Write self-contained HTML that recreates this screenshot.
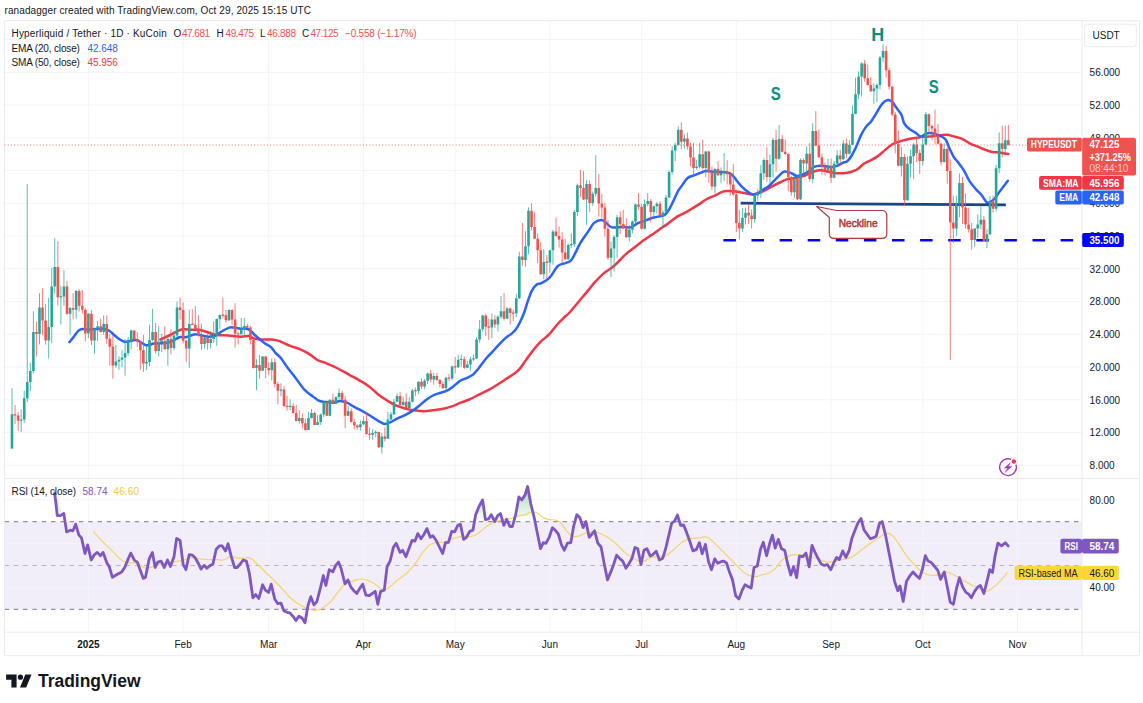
<!DOCTYPE html><html><head><meta charset="utf-8"><title>HYPEUSDT chart</title><style>html,body{margin:0;padding:0;background:#fff;width:1143px;height:703px;overflow:hidden;font-family:"Liberation Sans",sans-serif}</style></head><body><svg width="1143" height="703" viewBox="0 0 1143 703" style="position:absolute;left:0;top:0"><rect width="1143" height="703" fill="#fff"/><rect x="4.5" y="521.7" width="1077.5" height="87.6" fill="#7e57c2" fill-opacity="0.1"/><path d="M4.5 465.3H1082.0M4.5 432.5H1082.0M4.5 399.8H1082.0M4.5 367.0H1082.0M4.5 334.3H1082.0M4.5 301.5H1082.0M4.5 268.8H1082.0M4.5 236.0H1082.0M4.5 203.3H1082.0M4.5 170.5H1082.0M4.5 137.8H1082.0M4.5 105.0H1082.0M4.5 72.3H1082.0M4.5 39.5H1082.0M4.5 499.8H1082.0M4.5 543.6H1082.0M4.5 587.4H1082.0M88.4 20.7V632.2M183.1 20.7V632.2M268.7 20.7V632.2M363.5 20.7V632.2M455.2 20.7V632.2M549.9 20.7V632.2M641.6 20.7V632.2M736.3 20.7V632.2M831.1 20.7V632.2M922.8 20.7V632.2M1017.5 20.7V632.2" stroke="#f2f4f6" stroke-width="1" fill="none"/><path d="M4.5 521.7H1082.0M4.5 609.3H1082.0" stroke="#787b86" stroke-width="1" stroke-dasharray="4.5 4.8" fill="none"/><path d="M4.5 565.5H1082.0" stroke="#787b86" stroke-opacity="0.5" stroke-width="1" stroke-dasharray="4.5 4.8" fill="none"/><path d="M4.5 20.7H1139.5V655.7H4.5Z M1082.0 20.7V655.7 M4.5 478.5H1139.5 M4.5 632.2H1139.5" stroke="#e9ebef" stroke-width="1" fill="none"/><path d="M4.5 145.0H1082.0" stroke="#ef5350" stroke-width="0.9" stroke-opacity="0.85" stroke-dasharray="1.1 2.1" fill="none"/><path d="M160.4 339.5C162.0 338.8 167.0 336.5 170.1 335.0C173.2 333.5 176.9 331.3 179.2 330.4C181.5 329.4 181.4 329.4 183.7 329.3C186.0 329.2 190.2 329.7 192.9 329.8C195.6 329.9 197.0 329.3 199.7 329.8C202.3 330.3 206.0 331.8 208.8 332.7C211.7 333.6 213.6 334.5 216.8 335.0C220.0 335.5 224.1 335.2 228.1 335.5C232.1 335.8 237.2 336.6 240.7 336.7C244.2 336.8 246.9 335.8 249.1 336.1C251.3 336.4 251.8 337.8 253.7 338.4C255.6 339.0 257.5 339.3 260.5 339.5C263.5 339.7 268.7 339.2 271.9 339.5C275.1 339.8 276.8 340.1 279.8 341.2C282.8 342.2 286.5 344.4 290.1 345.8C293.7 347.2 298.1 348.3 301.5 349.8C304.9 351.3 308.0 353.2 310.6 354.9C313.2 356.6 314.8 358.6 317.4 360.0C320.0 361.4 323.1 362.0 326.5 363.4C329.9 364.8 334.1 366.6 337.9 368.5C341.7 370.4 345.5 372.7 349.3 374.8C353.1 376.9 357.4 379.2 360.7 381.1C364.0 383.0 366.2 384.2 369.1 386.4C372.0 388.6 375.2 392.0 378.2 394.4C381.2 396.8 384.3 398.7 387.3 400.6C390.3 402.5 393.4 404.4 396.4 405.7C399.4 407.0 402.5 407.8 405.5 408.6C408.5 409.4 411.6 409.9 414.6 410.3C417.6 410.7 420.6 411.2 423.7 411.2C426.8 411.2 429.8 410.7 432.9 410.3C435.9 409.9 439.0 409.5 442.0 408.9C445.0 408.3 448.1 407.6 451.1 406.6C454.1 405.6 457.2 404.1 460.2 402.9C463.2 401.7 466.3 400.8 469.3 399.5C472.3 398.2 474.9 396.6 478.4 394.9C481.8 393.2 485.6 391.7 490.0 389.2C494.4 386.7 501.1 382.1 504.9 379.7C508.7 377.3 510.4 376.4 512.9 374.6C515.4 372.8 517.4 371.5 519.7 368.9C522.0 366.3 524.2 362.3 526.5 359.2C528.8 356.1 531.0 353.0 533.3 350.1C535.6 347.2 537.5 344.8 540.2 342.1C542.9 339.4 546.5 337.0 549.3 334.1C552.1 331.2 554.6 327.4 557.2 324.5C559.9 321.6 563.1 318.6 565.2 316.5C567.3 314.4 566.2 316.3 570.0 312.0C573.8 307.7 583.8 295.5 587.9 290.6C592.0 285.7 592.0 285.3 594.7 282.4C597.4 279.4 601.1 275.6 604.3 272.9C607.5 270.2 610.5 269.0 613.9 266.0C617.3 263.0 621.4 258.2 624.8 255.1C628.2 252.0 631.1 250.1 634.3 247.6C637.5 245.1 641.1 242.1 643.9 240.1C646.7 238.1 648.5 237.0 651.0 235.3C653.5 233.6 656.1 231.7 659.0 229.7C661.9 227.7 665.1 225.6 668.1 223.4C671.1 221.2 674.4 218.4 677.2 216.6C680.1 214.8 683.1 213.7 685.2 212.6C687.3 211.5 687.5 211.3 690.0 209.8C692.5 208.3 697.2 205.4 700.0 203.6C702.8 201.8 704.3 200.3 706.8 199.0C709.3 197.7 712.1 196.8 714.8 195.6C717.5 194.4 720.5 192.3 722.8 191.6C725.1 190.8 726.2 191.1 728.5 191.1C730.8 191.1 733.6 191.2 736.4 191.6C739.2 192.0 742.8 192.8 745.5 193.3C748.2 193.8 750.1 194.6 752.4 194.5C754.7 194.4 756.9 193.6 759.2 192.8C761.5 192.0 763.7 191.1 766.0 189.9C768.3 188.8 770.6 187.1 772.9 185.9C775.2 184.7 777.4 183.6 779.7 182.5C782.0 181.4 784.1 180.2 786.8 179.4C789.5 178.6 792.9 178.3 795.9 177.7C798.9 177.0 802.0 176.5 805.0 175.5C808.0 174.5 811.4 172.4 814.1 171.5C816.8 170.6 818.3 170.2 821.0 170.3C823.7 170.4 827.5 171.5 830.1 172.0C832.8 172.5 834.6 173.0 836.9 173.2C839.2 173.4 841.4 173.4 843.7 173.2C846.0 173.0 848.3 172.7 850.6 172.0C852.9 171.3 855.1 170.6 857.4 169.2C859.7 167.8 861.9 165.0 864.2 163.5C866.5 162.0 868.8 161.3 871.1 160.1C873.4 158.9 875.6 157.7 877.9 156.1C880.2 154.5 882.4 152.3 884.7 150.4C887.0 148.5 889.3 146.1 891.6 144.7C893.9 143.3 896.0 142.7 898.4 141.9C900.8 141.1 903.1 140.4 905.9 139.8C908.7 139.2 912.0 138.6 915.0 138.1C918.0 137.6 921.1 137.0 924.1 136.7C927.1 136.4 930.6 136.4 933.3 136.2C936.0 136.0 937.8 135.6 940.1 135.3C942.4 135.1 944.6 134.5 946.9 134.7C949.2 134.9 951.2 135.7 953.7 136.4C956.2 137.1 959.0 137.5 961.7 138.7C964.4 139.8 967.2 142.1 969.7 143.3C972.2 144.5 974.0 145.1 976.5 146.1C979.0 147.1 981.9 148.5 984.5 149.5C987.1 150.5 989.9 151.6 992.4 152.1C994.9 152.6 996.6 152.1 999.3 152.4C1002.0 152.7 1006.9 153.8 1008.4 154.1" stroke="#f23645" stroke-width="2.5" fill="none" stroke-linejoin="round" stroke-linecap="round"/><path d="M69.4 342.1C70.2 341.2 72.5 338.3 74.0 336.4C75.5 334.5 77.2 331.9 78.5 330.7C79.8 329.5 80.7 329.2 82.0 329.0C83.3 328.8 85.0 329.3 86.5 329.4C88.0 329.5 89.2 329.5 91.1 329.4C93.0 329.3 95.6 329.1 97.9 329.0C100.2 328.9 102.8 328.7 104.7 329.0C106.6 329.3 107.8 329.8 109.3 330.7C110.8 331.6 112.1 333.3 113.8 334.7C115.5 336.1 117.7 338.1 119.5 339.3C121.3 340.5 122.6 341.6 124.6 341.8C126.6 342.0 129.3 341.0 131.4 340.7C133.5 340.4 134.6 339.4 137.1 340.1C139.6 340.9 143.4 344.6 146.2 345.2C149.0 345.8 150.9 343.9 154.1 343.5C157.3 343.1 162.4 343.3 165.5 342.9C168.6 342.5 170.1 342.1 172.4 341.2C174.7 340.2 176.9 337.9 179.2 337.2C181.5 336.5 183.5 337.7 186.0 337.2C188.5 336.7 191.7 334.8 194.0 334.4C196.3 334.0 197.2 334.6 199.7 335.0C202.2 335.4 206.2 336.6 208.8 336.7C211.5 336.8 213.3 336.4 215.6 335.5C217.9 334.6 220.1 332.3 222.4 331.0C224.7 329.7 227.4 328.2 229.3 327.6C231.2 327.0 231.9 327.4 233.8 327.6C235.7 327.8 238.5 328.5 240.7 328.7C242.9 328.9 245.0 328.2 246.8 328.7C248.6 329.2 250.1 330.4 251.4 331.5C252.7 332.6 253.5 333.8 254.8 335.0C256.1 336.2 257.7 337.6 259.4 339.0C261.1 340.4 263.1 342.2 265.0 343.5C266.9 344.8 269.0 345.4 270.7 346.9C272.4 348.4 273.6 350.7 275.3 352.6C277.0 354.5 278.9 355.7 281.0 358.3C283.1 360.9 285.3 364.7 287.8 368.0C290.3 371.3 293.0 374.5 295.8 378.2C298.6 381.9 302.0 387.2 304.9 390.2C307.8 393.2 310.4 394.6 312.9 396.4C315.4 398.2 317.4 400.1 319.7 401.0C322.0 401.9 324.2 401.8 326.5 402.1C328.8 402.4 331.0 402.9 333.3 402.7C335.6 402.5 337.9 401.0 340.2 401.0C342.5 401.0 344.7 401.8 347.0 402.7C349.3 403.6 351.5 405.5 353.8 406.7C356.1 407.9 358.5 408.9 360.7 410.1C362.9 411.3 364.4 412.2 366.8 413.7C369.2 415.1 372.5 417.4 374.8 418.8C377.1 420.2 378.8 421.4 380.5 422.2C382.2 423.0 383.3 423.9 385.0 423.9C386.7 423.9 388.6 423.1 390.7 422.2C392.8 421.3 395.1 419.5 397.6 418.3C400.1 417.1 403.0 416.0 405.5 414.8C408.0 413.6 410.1 412.4 412.4 410.9C414.7 409.4 416.9 407.5 419.2 405.7C421.5 403.9 423.7 401.7 426.0 400.0C428.3 398.3 430.6 396.7 432.9 395.5C435.2 394.3 437.4 393.8 439.7 393.0C442.0 392.2 444.2 392.0 446.5 390.9C448.8 389.8 451.0 388.1 453.3 386.4C455.6 384.7 457.9 382.1 460.2 380.7C462.5 379.3 464.9 378.8 467.0 377.8C469.1 376.8 471.1 376.2 473.0 374.6C474.9 373.0 476.6 370.9 478.7 368.3C480.8 365.7 483.2 361.9 485.5 359.2C487.8 356.4 490.1 354.3 492.4 351.8C494.7 349.3 496.9 346.8 499.2 344.4C501.5 342.0 503.9 339.4 506.0 337.6C508.1 335.8 510.1 334.9 511.7 333.6C513.3 332.3 514.4 331.4 515.7 329.6C517.0 327.8 518.3 325.7 519.7 322.8C521.1 319.9 522.8 316.3 524.2 312.5C525.6 308.7 526.9 303.6 528.2 300.0C529.5 296.4 530.5 293.2 531.9 290.6C533.3 288.0 535.1 285.8 536.7 284.5C538.3 283.2 539.2 284.2 541.4 283.1C543.5 282.0 546.9 280.6 549.6 277.7C552.3 274.8 555.3 268.4 557.8 266.0C560.3 263.6 562.5 264.2 564.7 263.3C566.9 262.4 569.0 262.4 570.8 260.6C572.6 258.8 574.0 255.4 575.6 252.4C577.2 249.4 578.4 246.2 580.4 242.8C582.4 239.4 585.6 235.2 587.9 231.9C590.2 228.6 591.9 224.9 594.1 222.9C596.3 220.9 599.1 220.1 601.0 220.0C602.9 219.9 604.0 221.2 605.5 222.3C607.0 223.4 608.6 225.6 610.1 226.5C611.6 227.4 612.3 227.5 614.6 227.6C616.9 227.7 621.0 226.8 623.7 226.8C626.4 226.8 628.3 228.0 630.6 227.4C632.9 226.8 635.1 224.5 637.4 223.4C639.7 222.3 641.9 221.9 644.2 221.1C646.5 220.2 648.8 219.1 651.1 218.3C653.4 217.6 655.6 217.2 657.9 216.6C660.2 216.0 662.8 216.1 664.7 214.9C666.6 213.7 667.8 211.7 669.3 209.2C670.8 206.7 672.3 203.2 673.8 200.1C675.3 197.0 677.1 192.7 678.4 190.4C679.7 188.1 680.1 188.1 681.6 186.1C683.1 184.1 685.2 180.0 687.3 178.2C689.4 176.4 692.0 176.2 694.1 175.3C696.2 174.5 697.9 173.8 699.8 173.1C701.7 172.4 703.4 171.2 705.5 171.0C707.6 170.8 709.9 171.5 712.4 171.7C714.9 171.8 717.8 171.8 720.3 171.9C722.8 172.0 725.3 172.1 727.2 172.5C729.1 172.9 730.4 173.3 731.9 174.6C733.4 175.9 734.9 178.3 736.4 180.2C737.9 182.1 739.5 184.3 741.0 185.9C742.5 187.5 744.0 188.7 745.5 189.9C747.0 191.1 748.8 192.5 750.1 193.3C751.4 194.1 752.2 194.5 753.5 194.5C754.8 194.5 756.5 194.1 758.0 193.3C759.5 192.5 760.9 191.0 762.6 189.9C764.3 188.8 766.4 188.0 768.3 186.5C770.2 185.0 772.1 182.7 774.0 180.8C775.9 178.9 777.9 176.7 779.7 175.1C781.5 173.5 782.7 171.8 784.6 171.5C786.5 171.2 789.3 172.4 791.4 173.2C793.5 173.9 795.2 175.8 797.1 176.0C799.0 176.2 800.9 175.1 802.8 174.3C804.7 173.6 806.6 172.7 808.5 171.5C810.4 170.3 812.2 167.8 814.1 166.9C816.0 166.0 817.9 165.9 819.8 165.8C821.7 165.7 823.6 166.1 825.5 166.3C827.4 166.5 829.3 167.0 831.2 166.9C833.1 166.8 835.0 166.5 836.9 165.8C838.8 165.1 840.9 163.7 842.6 162.9C844.3 162.1 845.7 162.4 847.2 161.2C848.7 160.0 850.2 158.0 851.7 155.5C853.2 153.0 854.8 149.7 856.3 146.4C857.8 143.1 859.3 138.7 860.8 135.6C862.3 132.5 863.7 130.0 865.4 127.6C867.1 125.2 869.4 123.6 871.1 121.4C872.8 119.2 874.0 117.2 875.5 114.7C877.0 112.2 878.6 108.9 880.1 106.7C881.6 104.5 883.2 102.7 884.6 101.6C886.0 100.5 887.3 99.8 888.6 99.9C889.9 100.0 891.4 101.1 892.6 102.2C893.8 103.3 894.2 104.7 895.7 106.8C897.2 108.9 900.0 112.0 901.4 114.8C902.8 117.5 902.9 120.9 904.2 123.3C905.5 125.7 907.6 127.5 909.4 129.0C911.2 130.5 913.1 131.2 915.0 132.4C916.9 133.6 919.0 136.1 920.7 136.4C922.4 136.7 923.8 134.7 925.3 134.1C926.8 133.5 928.1 133.0 929.8 133.0C931.5 133.0 933.6 133.5 935.5 134.1C937.4 134.7 939.5 135.4 941.2 136.4C942.9 137.4 944.5 137.9 945.8 139.8C947.1 141.7 947.9 145.0 949.2 147.8C950.5 150.7 952.2 154.4 953.7 156.9C955.2 159.4 956.6 160.3 958.3 162.6C960.0 164.9 962.1 167.5 964.0 170.6C965.9 173.7 967.6 178.2 969.7 181.4C971.8 184.6 974.6 187.7 976.5 189.9C978.4 192.1 979.4 192.4 981.1 194.5C982.8 196.6 985.3 201.2 986.8 202.4C988.3 203.6 988.9 202.6 990.2 201.9C991.5 201.2 993.0 200.4 994.7 198.5C996.4 196.6 998.2 193.4 1000.4 190.5C1002.6 187.6 1006.6 182.4 1007.8 180.8" stroke="#2962ff" stroke-width="2.5" fill="none" stroke-linejoin="round" stroke-linecap="round"/><path d="M740.6 203.2L1005.8 204.8" stroke="#1c4587" stroke-width="2.8" fill="none"/><path d="M723.4 240.2H1081" stroke="#0000ff" stroke-width="2.6" stroke-dasharray="12.5 15.6" fill="none"/><path d="M816.7 206.5L836.5 210.5H881.8Q886.8 210.5 886.8 215.5V233.4Q886.8 238.4 881.8 238.4H834.3Q829.3 238.4 829.3 233.4V217.5Z" fill="#fff" stroke="#b2383e" stroke-width="1.2" stroke-linejoin="round"/><text x="838.7" y="227.2" font-family="Liberation Sans, sans-serif" font-size="10.5" fill="#b2383e" stroke="#b2383e" stroke-width="0.5" textLength="39" lengthAdjust="spacingAndGlyphs">Neckline</text><path d="M11.99 388.2V448.5M21.16 409.3V432.0M24.22 391.0V423.0M27.27 184.2V402.0M30.33 363.0V391.0M33.39 311.4V373.4M39.50 293.2V344.4M48.67 297.7V358.6M51.72 267.9V343.3M54.78 238.2V293.7M60.89 285.8V324.5M63.95 270.2V305.7M70.06 307.0V334.7M76.17 290.0V318.8M88.40 313.0V338.1M94.51 327.3V353.5M97.57 321.0V341.0M103.68 315.4V334.7M115.91 345.0V367.7M118.96 356.3V369.7M122.02 350.1V367.2M125.08 339.3V375.7M128.13 337.0V355.8M131.19 329.6V349.2M146.47 345.8V370.0M149.53 324.7V366.3M152.58 308.8V341.2M158.69 325.9V356.6M161.75 333.8V352.0M167.86 336.1V365.7M173.98 331.0V349.8M177.03 301.4V337.8M189.26 309.4V368.0M204.54 336.5V348.6M210.65 331.0V348.6M213.71 321.3V342.9M216.76 318.5V345.8M219.82 314.5V328.7M228.99 309.3V321.0M241.22 317.9V334.5M244.27 317.9V336.7M256.50 359.4V390.2M262.61 356.0V371.0M271.78 358.3V380.5M280.95 383.3V396.4M290.12 399.3V410.0M299.28 410.0V423.7M308.45 411.8V430.0M311.51 408.9V418.6M317.62 415.2V425.2M320.68 413.5V424.9M323.74 401.5V416.9M329.85 399.5V416.4M335.96 396.4V403.9M339.02 388.5V399.8M348.19 406.1V416.0M360.41 420.3V430.6M363.47 416.3V424.9M372.64 429.0V439.9M375.69 430.2V437.0M381.80 433.0V453.5M387.92 412.0V439.0M390.97 412.0V420.5M394.03 398.9V415.0M397.09 393.2V402.3M403.20 396.6V405.2M409.31 397.2V410.3M412.37 388.7V402.5M418.48 381.3V393.8M424.59 379.0V389.2M427.65 372.5V384.1M433.76 373.0V384.7M445.99 376.7V392.1M452.10 365.5V380.0M458.21 354.6V367.8M461.27 354.6V366.6M467.38 360.9V368.3M470.44 356.9V370.6M473.49 354.6V360.9M476.55 337.6V359.0M479.61 319.9V342.7M482.66 314.8V331.3M491.83 313.7V338.1M497.94 315.4V331.6M501.00 296.0V318.8M507.11 306.8V319.0M516.28 294.2V317.1M519.34 251.7V299.0M525.45 231.2V266.7M528.51 207.3V254.4M543.79 249.0V279.0M549.90 249.8V272.9M552.96 229.8V264.7M568.24 243.5V259.8M571.30 233.3V248.3M574.35 210.0V247.0M577.41 183.6V216.0M586.58 180.2V224.6M592.69 191.5V205.8M595.75 155.1V196.7M611.03 241.4V277.0M614.08 235.3V271.5M617.14 214.9V257.8M629.37 225.0V241.4M632.42 220.5V233.3M635.48 203.5V223.0M644.65 199.5V229.7M647.70 193.0V206.3M653.82 205.5V216.0M656.87 201.8V213.7M662.98 210.3V228.0M666.04 195.0V213.5M669.10 170.5V198.0M672.15 146.3V174.8M675.21 142.9V161.1M678.27 126.4V145.5M684.38 134.4V148.6M696.60 160.0V169.6M699.66 142.9V168.5M705.77 150.8V177.6M714.94 167.9V193.5M721.05 167.4V183.3M724.11 153.1V181.0M742.45 208.1V232.0M745.50 207.6V224.6M754.67 194.5V222.9M757.73 188.8V200.7M760.79 165.1V197.9M763.84 158.3V179.9M769.95 154.8V184.4M773.01 137.8V177.6M779.12 125.0V159.5M794.41 175.7V197.9M800.52 158.4V200.0M806.63 146.4V174.3M812.74 123.1V182.9M828.02 158.9V170.9M834.14 161.2V178.3M837.19 150.4V166.9M843.31 140.2V159.8M849.42 140.2V154.4M852.47 105.6V145.0M855.53 77.7V114.5M858.59 71.4V99.3M861.64 62.3V96.5M873.87 83.4V103.9M876.93 83.4V102.2M879.98 56.1V89.6M883.04 44.1V61.8M901.38 147.0V176.6M907.49 156.3V200.5M910.54 149.5V177.4M913.60 142.7V179.1M922.77 136.4V165.5M925.83 112.0V145.0M944.16 143.3V162.5M956.39 195.6V236.0M959.45 173.4V217.2M974.73 228.0V246.8M977.78 214.4V237.7M980.84 206.4V229.2M986.95 229.2V248.0M990.01 196.2V234.9M996.12 164.9V211.5M999.18 132.4V173.4M1005.29 125.6V153.5" stroke="#26a69a" stroke-width="1" stroke-opacity="0.75" fill="none"/><path d="M15.05 405.0V424.0M18.11 412.0V431.0M36.44 321.6V356.6M42.56 288.3V335.3M45.61 304.0V344.6M57.84 241.2V305.7M67.01 280.7V314.8M73.12 293.2V319.4M79.23 289.2V311.4M82.29 290.0V313.7M85.34 308.0V341.5M91.46 310.2V345.0M100.63 318.8V332.4M106.74 315.4V343.8M109.79 334.1V365.8M112.85 334.7V378.5M134.24 330.4V340.0M137.30 332.1V346.9M140.36 341.0V369.7M143.41 335.0V372.0M155.64 323.0V353.7M164.81 326.4V349.8M170.92 329.3V354.3M180.09 297.4V319.6M183.15 302.5V343.5M186.20 340.0V361.9M192.31 309.4V325.3M195.37 305.9V329.3M198.43 315.0V336.7M201.48 323.6V349.8M207.60 333.8V349.8M222.88 297.4V318.5M225.93 309.9V322.4M232.05 309.3V325.3M235.10 303.1V347.5M238.16 332.0V344.6M247.33 323.6V328.5M250.38 326.0V344.6M253.44 339.5V368.5M259.55 354.9V378.8M265.67 356.0V378.2M268.72 362.3V375.4M274.83 358.3V387.3M277.89 382.0V404.4M284.00 386.2V407.0M287.06 395.9V410.7M293.17 403.3V413.5M296.23 405.0V421.5M302.34 413.5V428.3M305.40 418.6V430.6M314.57 411.8V425.2M326.79 401.5V416.1M332.90 393.6V404.1M342.07 390.7V400.1M345.13 396.4V428.3M351.24 408.4V422.6M354.30 419.2V429.4M357.35 424.3V429.4M366.52 412.4V434.5M369.58 427.4V439.9M378.75 431.5V448.0M384.86 427.4V441.6M400.14 392.1V405.5M406.26 393.2V408.3M415.42 387.5V396.1M421.54 378.4V389.2M430.71 370.0V382.4M436.82 373.0V380.7M439.87 379.0V387.5M442.93 381.3V389.2M449.04 374.0V381.3M455.16 356.9V373.4M464.32 356.3V368.9M485.72 313.7V335.9M488.78 318.8V339.8M494.89 315.4V327.9M504.06 293.0V320.5M510.17 307.5V324.5M513.23 309.7V321.1M522.39 223.0V266.0M531.56 203.2V230.5M534.62 212.1V239.0M537.68 233.3V263.3M540.73 242.1V274.8M546.85 255.1V278.3M556.01 217.5V236.5M559.07 226.4V247.6M562.13 231.9V263.3M565.18 238.7V259.8M580.46 169.9V196.7M583.52 171.1V200.0M589.63 180.7V212.0M598.80 173.9V216.6M601.86 193.8V218.3M604.91 202.9V236.7M607.97 220.0V259.9M620.20 211.5V233.9M623.25 209.8V229.0M626.31 218.3V237.8M638.53 193.0V209.8M641.59 203.9V229.5M650.76 198.9V222.3M659.93 201.2V217.0M681.32 122.4V149.1M687.43 132.6V149.7M690.49 142.9V166.2M693.55 142.9V177.0M702.72 139.5V169.6M708.83 150.8V182.7M711.89 166.8V190.1M718.00 161.1V176.0M727.17 160.0V184.4M730.22 171.5V196.0M733.28 163.9V196.2M736.34 189.9V232.0M739.39 209.8V239.4M748.56 204.1V224.1M751.62 209.3V228.6M766.90 147.4V181.6M776.07 129.8V171.9M782.18 134.9V152.5M785.24 139.5V154.8M788.29 153.0V191.3M791.35 176.0V195.6M797.46 175.5V199.9M803.57 158.5V173.7M809.69 143.0V181.7M815.80 111.1V146.4M818.86 129.4V157.8M821.91 153.3V174.9M824.97 162.4V175.5M831.08 158.4V182.9M840.25 149.8V165.8M846.36 138.5V158.4M864.70 60.0V81.7M867.76 64.6V85.7M870.81 77.1V91.9M886.09 45.8V77.7M889.15 67.4V89.6M892.21 86.0V116.0M895.26 112.0V153.3M898.32 130.5V166.4M904.43 154.1V205.3M916.66 138.1V162.0M919.71 149.5V174.0M928.88 113.5V133.0M931.94 124.5V139.8M935.00 109.7V144.4M938.05 123.9V144.5M941.11 142.5V165.5M947.22 147.5V183.7M950.28 159.2V360.0M953.33 195.6V242.9M962.50 176.8V224.1M965.56 193.3V228.6M968.61 207.6V232.6M971.67 222.9V249.7M983.90 216.1V241.7M993.06 195.6V212.7M1002.23 125.6V157.5M1008.35 125.0V145.6" stroke="#ef5350" stroke-width="1" stroke-opacity="0.75" fill="none"/><path d="M11.99 414.2V448.5M21.16 419.5V420.7M24.22 398.2V419.5M27.27 382.0V398.2M30.33 371.0V382.0M33.39 332.0V371.0M39.50 307.4V334.0M48.67 327.0V340.4M51.72 286.6V327.0M54.78 267.0V286.6M60.89 296.3V297.5M63.95 286.6V296.6M70.06 308.0V313.7M76.17 290.9V309.7M88.40 313.7V333.6M94.51 328.5V340.4M97.57 326.2V328.5M103.68 323.9V331.9M115.91 361.5V365.5M118.96 359.8V361.5M122.02 357.5V359.8M125.08 352.9V357.5M128.13 341.0V352.9M131.19 330.4V341.0M146.47 362.0V363.4M149.53 340.1V362.0M152.58 332.1V340.1M158.69 341.8V350.9M161.75 340.6V341.9M167.86 338.9V349.2M173.98 335.5V348.1M177.03 307.6V335.5M189.26 324.1V348.6M204.54 337.8V344.1M210.65 338.9V342.9M213.71 336.1V338.9M216.76 319.0V336.1M219.82 315.0V319.0M228.99 309.9V320.2M241.22 328.7V334.2M244.27 325.9V328.7M256.50 365.1V368.0M262.61 356.6V370.8M271.78 362.3V370.2M280.95 389.5V390.8M290.12 405.8V407.0M299.28 418.0V420.9M308.45 418.0V430.0M311.51 412.9V418.0M317.62 422.0V424.9M320.68 414.4V422.0M323.74 402.1V414.4M329.85 399.8V415.8M335.96 397.0V403.8M339.02 393.0V397.0M348.19 411.2V415.8M360.41 424.3V427.2M363.47 420.9V424.3M372.64 433.0V434.8M375.69 431.8V433.1M381.80 436.5V447.3M387.92 419.4V438.7M390.97 414.3V419.4M394.03 401.7V414.3M397.09 396.1V401.7M403.20 401.7V405.2M409.31 401.7V408.0M412.37 390.4V401.7M418.48 381.8V390.8M424.59 380.7V386.4M427.65 373.5V380.7M433.76 376.1V379.6M445.99 377.8V388.1M452.10 366.6V378.4M458.21 359.8V367.2M461.27 358.9V360.1M467.38 364.6V367.7M470.44 359.2V364.6M473.49 358.3V359.5M476.55 339.5V358.6M479.61 329.3V339.5M482.66 315.4V329.3M491.83 319.4V327.6M497.94 316.8V324.5M501.00 311.2V316.8M507.11 308.5V318.8M516.28 298.2V313.3M519.34 256.5V298.2M525.45 246.2V259.9M528.51 210.7V246.2M543.79 261.9V274.2M549.90 250.3V262.6M552.96 231.6V250.3M568.24 244.9V259.2M571.30 244.0V245.2M574.35 212.1V244.2M577.41 185.3V212.1M586.58 184.1V199.5M592.69 193.8V202.9M595.75 188.1V193.8M611.03 248.6V257.8M614.08 237.0V248.6M617.14 217.3V237.0M629.37 229.8V237.3M632.42 221.5V229.8M635.48 204.6V221.5M644.65 204.1V228.8M647.70 201.0V204.1M653.82 206.3V212.0M656.87 203.8V206.3M662.98 212.5V216.0M666.04 197.5V212.5M669.10 171.9V197.5M672.15 150.6V171.9M675.21 144.9V150.6M678.27 129.8V144.9M684.38 138.6V141.8M696.60 166.8V168.0M699.66 154.3V166.8M705.77 151.4V167.9M714.94 169.1V186.4M721.05 172.8V175.3M724.11 171.8V173.0M742.45 217.8V228.6M745.50 212.7V217.8M754.67 195.6V218.9M757.73 193.2V195.6M760.79 173.3V193.2M763.84 160.0V173.3M769.95 164.2V177.0M773.01 140.0V164.2M779.12 138.9V158.8M794.41 178.0V192.2M800.52 160.1V199.3M806.63 153.8V163.5M812.74 131.1V178.9M828.02 166.3V170.3M834.14 163.8V177.7M837.19 155.5V163.8M843.31 143.6V159.2M849.42 144.7V153.8M852.47 113.8V144.7M855.53 94.2V113.8M858.59 76.5V94.2M861.64 63.5V76.5M873.87 88.5V91.3M876.93 85.1V88.5M879.98 57.5V85.1M883.04 50.9V57.5M901.38 157.0V165.8M907.49 163.7V200.2M910.54 156.3V163.7M913.60 144.4V156.3M922.77 144.4V160.9M925.83 114.2V144.4M944.16 148.9V162.0M956.39 203.8V228.6M959.45 183.1V203.8M974.73 228.6V240.0M977.78 224.6V228.6M980.84 219.8V224.6M986.95 234.3V241.1M990.01 201.3V234.3M996.12 168.3V208.7M999.18 143.3V168.3M1005.29 140.2V148.9" stroke="#26a69a" stroke-width="2.6" fill="none"/><path d="M15.05 414.2V415.5M18.11 415.5V420.7M36.44 332.0V334.0M42.56 307.4V320.5M45.61 320.5V340.4M57.84 267.0V297.2M67.01 286.6V313.7M73.12 308.0V309.7M79.23 290.9V305.7M82.29 305.7V309.7M85.34 309.7V333.6M91.46 313.7V340.4M100.63 326.2V331.9M106.74 323.9V338.7M109.79 338.7V346.7M112.85 346.7V365.5M134.24 330.4V339.5M137.30 339.5V341.8M140.36 341.8V350.3M143.41 350.3V363.4M155.64 332.1V350.9M164.81 340.7V349.2M170.92 338.9V348.1M180.09 307.6V309.9M183.15 309.9V340.7M186.20 340.7V348.6M192.31 323.8V325.0M195.37 324.7V328.7M198.43 328.7V335.5M201.48 335.5V344.1M207.60 337.8V342.9M222.88 314.5V315.7M225.93 315.2V320.2M232.05 309.9V319.6M235.10 319.6V333.8M238.16 333.4V334.6M247.33 325.9V327.6M250.38 327.6V340.1M253.44 340.1V368.0M259.55 365.1V370.8M265.67 356.6V368.0M268.72 368.0V370.2M274.83 362.3V383.9M277.89 383.9V390.7M284.00 389.6V406.1M287.06 405.8V407.0M293.17 406.1V412.9M296.23 412.9V420.9M302.34 418.0V423.2M305.40 423.2V430.0M314.57 412.9V424.9M326.79 402.1V415.8M332.90 399.8V403.8M342.07 393.0V399.8M345.13 399.8V415.8M351.24 411.2V422.0M354.30 422.0V425.5M357.35 425.5V427.2M366.52 420.9V434.0M369.58 433.8V435.0M378.75 431.9V447.3M384.86 436.5V438.7M400.14 396.1V405.2M406.26 401.7V408.0M415.42 390.0V391.2M421.54 381.8V386.4M430.71 373.5V379.6M436.82 376.1V380.1M439.87 380.1V384.1M442.93 384.1V388.1M449.04 377.5V378.7M455.16 366.3V367.5M464.32 359.2V367.7M485.72 315.4V326.7M488.78 326.5V327.8M494.89 319.4V324.5M504.06 311.2V318.8M510.17 308.5V313.1M513.23 312.6V313.8M522.39 256.5V259.9M531.56 210.7V227.1M534.62 227.1V238.7M537.68 238.7V250.3M540.73 250.3V274.2M546.85 261.6V262.9M556.01 231.6V236.0M559.07 236.0V239.4M562.13 239.4V252.4M565.18 252.4V259.2M580.46 185.3V188.1M583.52 188.1V199.5M589.63 184.1V202.9M598.80 188.1V203.5M601.86 203.5V207.5M604.91 207.5V228.8M607.97 228.8V257.8M620.20 217.3V224.2M623.25 224.2V228.5M626.31 228.5V237.3M638.53 204.6V206.7M641.59 206.7V228.8M650.76 201.0V212.0M659.93 203.8V216.0M681.32 129.8V141.8M687.43 138.6V146.6M690.49 146.6V157.4M693.55 157.4V167.9M702.72 154.3V167.9M708.83 151.4V172.2M711.89 172.2V186.4M718.00 169.1V175.3M727.17 171.9V174.2M730.22 174.2V184.4M733.28 184.4V194.5M736.34 194.5V222.9M739.39 222.9V228.6M748.56 212.7V215.5M751.62 215.5V218.9M766.90 160.0V177.0M776.07 140.0V158.8M782.18 138.9V151.7M785.24 151.7V154.0M788.29 154.0V177.0M791.35 177.0V192.2M797.46 178.0V199.3M803.57 160.1V163.5M809.69 153.8V178.9M815.80 131.1V145.6M818.86 145.6V157.2M821.91 157.2V166.6M824.97 166.6V170.3M831.08 166.3V177.7M840.25 155.5V159.2M846.36 143.6V153.8M864.70 63.5V78.3M867.76 78.3V85.1M870.81 85.1V91.3M886.09 50.9V70.3M889.15 70.3V86.8M892.21 86.8V114.6M895.26 114.6V144.1M898.32 144.1V165.8M904.43 157.0V200.2M916.66 144.4V152.9M919.71 152.9V160.9M928.88 114.2V126.0M931.94 126.0V128.5M935.00 128.5V136.4M938.05 136.4V143.8M941.11 143.8V162.0M947.22 148.9V171.1M950.28 171.1V222.4M953.33 222.4V228.6M962.50 183.1V207.6M965.56 207.6V224.4M968.61 224.4V229.2M971.67 229.2V240.0M983.90 219.8V241.1M993.06 201.3V208.7M1002.23 143.3V148.9M1008.35 140.2V145.0" stroke="#ef5350" stroke-width="2.6" fill="none"/><text x="775.7" y="100.3" font-family="Liberation Sans, sans-serif" font-size="18.6" font-weight="bold" fill="#0b8f81" text-anchor="middle" textLength="10" lengthAdjust="spacingAndGlyphs">S</text><text x="877.7" y="40.7" font-family="Liberation Sans, sans-serif" font-size="18" font-weight="bold" fill="#0b8f81" text-anchor="middle" >H</text><text x="933.7" y="92.5" font-family="Liberation Sans, sans-serif" font-size="18.6" font-weight="bold" fill="#0b8f81" text-anchor="middle" textLength="10" lengthAdjust="spacingAndGlyphs">S</text><defs><linearGradient id="gob" gradientUnits="userSpaceOnUse" x1="0" y1="478" x2="0" y2="521.7"><stop offset="0" stop-color="#4caf50" stop-opacity="0.6"/><stop offset="1" stop-color="#4caf50" stop-opacity="0"/></linearGradient><linearGradient id="gos" gradientUnits="userSpaceOnUse" x1="0" y1="609.3" x2="0" y2="640"><stop offset="0" stop-color="#ff5252" stop-opacity="0"/><stop offset="1" stop-color="#ff5252" stop-opacity="0.4"/></linearGradient></defs><path d="M54.7 493.0L57.3 515.7L60.5 515.7L63.8 513.5L65.0 521.7Z" fill="url(#gob)"/><path d="M474.4 521.7L475.7 514.6L478.8 507.0L482.6 499.9L485.4 519.6L488.6 518.9L491.2 514.6L494.7 521.5L497.7 515.7L500.5 513.5L502.8 521.7Z" fill="url(#gob)"/><path d="M505.5 521.7L506.6 519.3L507.7 521.7Z" fill="url(#gob)"/><path d="M513.7 521.7L515.7 514.6L518.9 496.9L521.7 499.9L525.0 495.1L527.6 486.5L530.8 503.8L534.0 516.7L535.0 521.7Z" fill="url(#gob)"/><path d="M574.9 521.7L576.8 514.6L579.9 517.8L581.2 521.7Z" fill="url(#gob)"/><path d="M585.8 521.7L585.9 521.5L585.9 521.7Z" fill="url(#gob)"/><path d="M673.8 521.7L674.6 521.1L677.4 515.0L679.5 521.7Z" fill="url(#gob)"/><path d="M858.8 521.7L861.0 518.5L861.8 521.7Z" fill="url(#gob)"/><path d="M881.9 521.7L882.2 521.5L882.2 521.7Z" fill="url(#gob)"/><path d="M283.2 609.3L283.8 610.8L287.0 612.3L289.8 612.9L292.9 616.2L295.9 620.5L298.9 616.2L302.2 618.3L305.0 622.7L307.3 609.3Z" fill="url(#gos)"/><path d="M93.6 531.4C94.4 532.4 96.5 535.2 98.4 537.3C100.3 539.4 102.4 541.3 104.9 543.8C107.4 546.3 111.0 549.9 113.5 552.4C116.0 554.9 117.8 557.2 120.0 558.9C122.2 560.6 124.0 561.9 126.5 562.6C129.0 563.3 132.6 562.6 135.1 563.2C137.6 563.8 139.8 565.2 141.6 566.0C143.4 566.8 144.1 568.1 145.9 568.2C147.7 568.4 149.9 567.5 152.4 566.9C154.9 566.2 158.2 564.9 161.1 564.3C164.0 563.7 166.8 563.7 169.7 563.2C172.6 562.7 175.4 561.8 178.3 561.1C181.2 560.4 184.8 559.5 187.0 558.9C189.2 558.3 189.1 557.8 191.3 557.8C193.5 557.8 197.1 558.6 200.0 558.9C202.9 559.2 205.7 559.5 208.6 559.6C211.5 559.7 214.8 559.5 217.3 559.6C219.8 559.7 221.5 560.5 223.7 560.0C225.8 559.5 228.0 557.1 230.2 556.7C232.4 556.3 234.5 557.5 236.7 557.8C238.9 558.1 241.4 558.4 243.2 558.3C245.0 558.2 246.1 557.3 247.5 557.4C248.9 557.5 250.4 557.9 251.8 558.9C253.2 559.9 254.8 561.9 256.2 563.2C257.6 564.5 258.3 564.9 260.0 566.5C261.7 568.1 264.3 570.9 266.5 573.0C268.7 575.1 270.5 576.9 273.0 579.4C275.5 581.9 278.7 585.0 281.6 588.1C284.5 591.2 287.4 595.1 290.3 597.8C293.2 600.5 296.0 602.5 298.9 604.3C301.8 606.1 305.1 607.6 307.6 608.6C310.1 609.6 312.0 609.9 314.0 610.1C316.0 610.3 317.6 610.3 319.4 609.7C321.2 609.1 322.9 607.9 324.9 606.5C326.9 605.1 329.1 603.5 331.3 601.1C333.5 598.8 335.6 595.1 337.8 592.4C340.0 589.7 342.1 586.6 344.3 584.8C346.5 583.0 348.6 582.4 350.8 581.6C353.0 580.8 355.3 580.3 357.3 579.9C359.3 579.5 360.9 578.9 362.7 579.0C364.5 579.1 366.1 579.7 368.1 580.5C370.1 581.3 372.6 582.5 374.6 583.8C376.6 585.1 378.4 587.1 380.0 588.1C381.6 589.1 382.7 590.0 384.3 589.8C385.9 589.6 387.4 588.7 389.7 587.0C392.0 585.3 395.4 581.7 398.3 579.4C401.2 577.1 404.1 575.7 407.0 573.0C409.9 570.3 413.1 566.5 415.6 563.2C418.1 560.0 419.9 556.4 422.1 553.5C424.3 550.6 426.4 547.7 428.6 545.9C430.8 544.1 432.6 543.4 435.1 542.7C437.6 542.1 440.8 542.6 443.7 542.0C446.6 541.4 449.5 539.7 452.4 538.8C455.3 537.9 458.5 537.0 461.0 536.6C463.5 536.2 465.3 536.7 467.5 536.6C469.7 536.5 471.9 536.6 474.0 535.8C476.1 535.0 477.9 533.4 480.0 531.9C482.1 530.4 484.3 528.0 486.5 526.5C488.7 525.0 490.5 523.9 493.0 522.8C495.5 521.7 498.7 520.7 501.6 520.0C504.5 519.3 507.4 519.2 510.3 518.5C513.2 517.8 516.4 516.4 518.9 515.7C521.4 515.1 523.4 515.2 525.4 514.6C527.4 514.0 529.0 512.4 530.8 512.0C532.6 511.6 534.2 511.5 536.2 512.4C538.2 513.3 540.5 516.0 542.7 517.2C544.9 518.4 547.0 519.1 549.2 519.6C551.4 520.1 553.7 519.4 555.7 520.0C557.7 520.6 559.3 521.4 561.1 523.2C562.9 525.0 564.5 528.6 566.5 530.8C568.5 533.0 570.9 535.8 573.0 536.6C575.1 537.4 577.2 536.4 579.4 535.8C581.5 535.2 583.7 533.6 585.9 533.0C588.1 532.4 590.2 531.9 592.4 531.9C594.6 531.9 596.4 532.1 598.9 533.0C601.4 533.9 604.6 535.5 607.5 537.3C610.4 539.1 613.3 541.3 616.2 543.8C619.1 546.3 621.9 550.0 624.8 552.4C627.7 554.8 630.6 556.8 633.5 558.3C636.4 559.8 639.2 561.8 642.1 561.7C645.0 561.6 647.9 558.7 650.8 557.8C653.7 556.9 656.9 556.6 659.4 556.3C661.9 555.9 663.4 557.0 665.9 555.7C668.4 554.4 671.7 551.1 674.6 548.7C677.5 546.4 680.3 543.3 683.2 541.6C686.1 539.9 689.0 539.0 691.8 538.4C694.6 537.8 697.7 538.2 700.0 537.9C702.3 537.6 703.6 536.4 705.4 536.6C707.2 536.9 708.8 537.9 710.8 539.4C712.8 540.9 715.1 543.7 717.3 545.9C719.5 548.1 721.6 550.2 723.8 552.4C726.0 554.6 728.1 556.7 730.3 558.9C732.4 561.1 734.6 563.2 736.7 565.4C738.9 567.6 741.0 570.2 743.2 571.9C745.4 573.6 747.5 575.0 749.7 575.8C751.9 576.6 754.0 576.8 756.2 576.6C758.4 576.4 760.5 575.3 762.7 574.7C764.9 574.1 767.0 574.1 769.2 573.0C771.4 571.9 773.6 570.4 775.7 568.2C777.9 566.0 780.0 562.0 782.1 560.0C784.2 558.0 786.4 557.0 788.6 556.1C790.8 555.2 792.9 554.8 795.1 554.6C797.3 554.5 799.4 555.0 801.6 555.2C803.8 555.5 805.9 555.7 808.1 556.1C810.3 556.5 812.4 557.1 814.6 557.8C816.8 558.5 819.0 559.7 821.1 560.4C823.2 561.1 825.4 561.9 827.5 562.1C829.6 562.3 831.8 562.1 834.0 561.7C836.2 561.3 838.3 560.1 840.5 559.6C842.7 559.1 844.8 559.5 847.0 558.9C849.2 558.3 851.3 557.4 853.5 556.1C855.7 554.8 857.8 553.0 860.0 551.3C862.2 549.6 864.4 547.5 866.5 545.9C868.6 544.3 870.8 543.0 872.9 541.6C875.0 540.2 877.4 538.6 879.4 537.3C881.4 536.0 883.2 534.6 884.8 534.0C886.4 533.4 887.6 533.2 889.1 533.6C890.6 534.0 891.9 534.9 893.5 536.6C895.1 538.3 896.7 540.6 898.9 543.8C901.1 547.0 904.1 552.5 906.5 555.7C908.9 558.9 910.8 560.9 913.0 563.2C915.2 565.5 917.4 567.9 919.5 569.7C921.6 571.5 923.8 573.0 925.9 574.0C928.0 575.0 930.2 575.4 932.4 575.5C934.6 575.6 936.7 575.3 938.9 574.7C941.1 574.1 943.2 572.0 945.4 571.9C947.6 571.8 949.7 573.1 951.9 574.0C954.1 574.9 956.2 576.1 958.4 577.3C960.6 578.5 962.8 580.0 964.9 581.2C967.0 582.5 969.1 583.6 971.3 584.8C973.4 585.9 975.6 587.1 977.8 588.1C980.0 589.1 982.5 590.3 984.3 590.7C986.1 591.1 986.8 591.5 988.6 590.7C990.4 589.9 992.9 587.8 995.1 585.9C997.3 584.0 999.6 581.6 1001.6 579.4C1003.6 577.2 1006.4 573.6 1007.4 572.5" stroke="#f7d364" stroke-width="1.2" fill="none" stroke-linejoin="round"/><path d="M54.7 493.0L57.3 515.7L60.5 515.7L63.8 513.5L66.6 531.9L70.3 530.2L72.9 530.8L75.7 524.3L78.9 535.1L81.5 537.9L85.0 553.5L87.6 544.9L91.2 560.0L94.5 554.6L97.3 552.4L100.5 555.7L103.1 552.4L107.0 563.2L109.2 566.5L112.4 577.3L117.8 574.0L121.7 571.9L124.7 567.5L128.2 558.9L130.8 553.1L134.5 560.4L137.3 562.1L140.1 569.7L143.3 578.4L145.5 577.3L149.2 558.9L152.4 552.4L155.2 567.5L157.8 562.1L161.1 561.1L164.3 567.5L167.5 560.0L170.4 566.5L174.0 556.7L176.6 538.4L180.1 540.5L183.1 564.3L185.9 569.7L189.2 554.6L192.4 555.2L195.2 557.8L198.2 563.2L201.0 569.1L204.3 565.4L206.9 568.2L210.3 565.4L212.9 564.3L216.2 549.2L219.4 545.9L222.2 545.9L225.5 550.9L228.1 543.8L231.3 556.7L234.6 567.5L237.1 567.5L240.0 564.3L243.2 560.0L246.4 561.1L249.3 573.0L252.9 597.8L255.7 594.6L258.8 598.5L262.6 584.8L265.4 590.2L268.6 592.4L271.2 584.2L274.7 598.9L277.7 603.6L281.0 603.2L283.8 610.8L287.0 612.3L289.8 612.9L292.9 616.2L295.9 620.5L298.9 616.2L302.2 618.3L305.0 622.7L308.0 605.4L310.8 596.7L314.0 604.9L316.9 601.5L320.1 589.2L323.3 575.5L325.9 585.5L329.2 569.7L332.8 571.9L335.7 565.4L338.5 562.1L341.1 568.6L345.0 583.8L348.0 579.9L350.8 587.0L353.4 590.2L356.8 593.5L359.9 588.1L362.7 584.2L365.9 595.2L369.2 595.7L372.4 593.5L375.2 591.3L377.8 604.3L380.6 591.3L384.3 590.2L387.1 566.5L390.1 561.1L393.4 547.4L396.2 543.3L400.1 552.4L402.7 550.3L405.9 556.7L409.2 548.1L412.0 540.5L415.0 541.0L417.8 533.6L421.0 538.8L423.9 534.5L426.9 528.6L430.3 537.3L432.9 535.8L436.2 540.5L439.4 547.0L442.7 553.5L445.5 542.7L448.5 542.3L451.7 531.4L454.6 531.9L457.8 525.4L460.4 524.3L463.6 539.4L466.4 537.3L469.7 531.4L472.9 530.2L475.7 514.6L478.8 507.0L482.6 499.9L485.4 519.6L488.6 518.9L491.2 514.6L494.7 521.5L497.7 515.7L500.5 513.5L503.8 525.4L506.6 519.3L509.8 526.5L512.4 526.5L515.7 514.6L518.9 496.9L521.7 499.9L525.0 495.1L527.6 486.5L530.8 503.8L534.0 516.7L537.3 533.0L540.5 548.7L543.3 542.7L545.9 543.3L549.2 537.3L552.4 527.6L555.2 530.2L558.3 534.0L561.5 544.9L564.3 550.3L567.5 543.1L570.8 542.7L573.6 526.5L576.8 514.6L579.9 517.8L583.1 527.6L585.9 521.5L589.2 537.3L592.0 534.0L594.6 530.8L597.8 543.1L601.1 547.0L604.3 564.3L607.5 579.9L610.8 571.9L613.6 564.7L616.6 555.2L620.1 558.9L622.7 561.1L625.9 568.2L629.2 563.2L632.0 558.3L635.0 547.4L637.8 548.7L641.0 564.7L643.9 550.3L646.9 548.7L650.3 556.1L652.9 554.6L656.2 551.3L659.4 560.0L662.7 558.3L665.5 549.2L668.5 536.6L671.7 523.2L674.6 521.1L677.4 515.0L680.6 525.4L683.6 525.0L686.4 531.9L689.7 541.0L692.9 550.9L696.2 549.6L699.4 542.7L702.2 553.9L705.4 544.4L708.6 562.1L711.5 569.7L714.7 558.9L717.7 563.2L721.0 561.7L723.8 561.1L726.6 563.2L729.8 573.0L732.4 579.4L735.7 595.7L738.9 598.9L742.2 590.2L745.0 584.8L748.0 586.4L751.2 588.1L754.0 567.5L757.3 566.0L760.5 549.2L763.3 542.3L766.6 555.7L769.6 543.8L772.4 535.1L775.2 548.1L778.3 539.4L781.5 548.7L784.7 550.3L787.5 563.2L790.8 575.1L793.6 566.5L796.6 577.7L799.4 556.1L802.7 556.7L805.9 553.1L809.2 566.9L812.0 545.3L815.0 552.4L817.8 557.8L821.1 563.9L824.3 565.4L827.5 564.7L830.8 569.7L833.6 563.2L836.6 557.4L839.4 559.6L842.7 550.9L845.9 557.4L849.2 550.3L852.0 537.9L855.0 530.2L857.8 523.2L861.0 518.5L863.9 529.7L866.9 534.0L870.3 538.8L872.9 537.9L876.2 536.2L879.4 523.7L882.2 521.5L885.5 535.1L888.5 550.3L891.7 566.5L894.6 581.6L897.8 590.7L900.0 585.9L903.2 601.5L906.5 581.2L909.7 576.2L913.0 571.9L916.2 575.5L919.5 578.4L922.3 569.7L925.3 555.7L928.1 561.1L931.3 562.6L934.6 566.5L937.8 570.4L940.6 579.4L944.3 571.9L947.1 585.9L950.2 602.1L953.4 604.3L956.6 588.1L959.4 577.7L962.7 587.0L965.9 592.4L968.7 594.1L971.3 597.8L974.6 591.3L977.8 587.0L980.4 585.5L983.9 593.5L986.9 581.6L989.7 569.7L992.5 572.5L995.1 555.7L997.9 543.1L1001.6 545.9L1005.3 542.7L1008.1 545.9" stroke="#7e57c2" stroke-width="2.8" fill="none" stroke-linejoin="round" stroke-linecap="round"/><g fill="none" stroke="#a33bbd" stroke-width="1.3"><path d="M1011.2 459.4A8.4 8.4 0 1 0 1016 464.6"/></g><path d="M1010.2 462.8L1004.4 468.1H1007.7L1005.2 472.2L1011.8 466.4H1008.3Z" fill="#a33bbd" stroke="#a33bbd" stroke-width="0.5" stroke-linejoin="round"/><circle cx="1013.9" cy="461.5" r="2.2" fill="#f23645"/><text x="1089.6" y="469.1" font-family="Liberation Sans, sans-serif" font-size="10" fill="#131722">8.000</text><text x="1089.6" y="436.3" font-family="Liberation Sans, sans-serif" font-size="10" fill="#131722">12.000</text><text x="1089.6" y="403.6" font-family="Liberation Sans, sans-serif" font-size="10" fill="#131722">16.000</text><text x="1089.6" y="370.8" font-family="Liberation Sans, sans-serif" font-size="10" fill="#131722">20.000</text><text x="1089.6" y="338.1" font-family="Liberation Sans, sans-serif" font-size="10" fill="#131722">24.000</text><text x="1089.6" y="305.3" font-family="Liberation Sans, sans-serif" font-size="10" fill="#131722">28.000</text><text x="1089.6" y="272.6" font-family="Liberation Sans, sans-serif" font-size="10" fill="#131722">32.000</text><text x="1089.6" y="108.8" font-family="Liberation Sans, sans-serif" font-size="10" fill="#131722">52.000</text><text x="1089.6" y="76.1" font-family="Liberation Sans, sans-serif" font-size="10" fill="#131722">56.000</text><text x="1089.6" y="141.6" font-family="Liberation Sans, sans-serif" font-size="10" fill="#131722">48.000</text><text x="1089.6" y="207.1" font-family="Liberation Sans, sans-serif" font-size="10" fill="#131722">40.000</text><text x="1089.6" y="239.8" font-family="Liberation Sans, sans-serif" font-size="10" fill="#131722">36.000</text><text x="1089.6" y="503.6" font-family="Liberation Sans, sans-serif" font-size="10" fill="#131722">80.00</text><text x="1089.6" y="591.2" font-family="Liberation Sans, sans-serif" font-size="10" fill="#131722">40.00</text><rect x="1084.6" y="24.2" width="51.7" height="22.5" rx="3" fill="#fff" stroke="#e9ebef"/><text x="1092.5" y="39.2" font-family="Liberation Sans, sans-serif" font-size="10" fill="#131722">USDT</text><rect x="1027.0" y="137.7" width="55.0" height="13.9" rx="2" fill="#ef5350"/><text x="1030.8" y="148.4" font-family="Liberation Sans, sans-serif" font-size="10" font-weight="bold" fill="#fff"  textLength="46.0" lengthAdjust="spacingAndGlyphs">HYPEUSDT</text><rect x="1082.0" y="137.7" width="54.0" height="37.8" rx="2" fill="#ef5350"/><text x="1089.4" y="148.4" font-family="Liberation Sans, sans-serif" font-size="10" font-weight="bold" fill="#fff"  textLength="30.0" lengthAdjust="spacingAndGlyphs">47.125</text><text x="1089.4" y="160.7" font-family="Liberation Sans, sans-serif" font-size="10" font-weight="bold" fill="#fff"  textLength="41.5" lengthAdjust="spacingAndGlyphs">+371.25%</text><text x="1089.4" y="172.3" font-family="Liberation Sans, sans-serif" font-size="10"  fill="#fff" fill-opacity="0.72" textLength="39.0" lengthAdjust="spacingAndGlyphs">08:44:10</text><rect x="1039.1" y="176.0" width="42.9" height="13.7" rx="2" fill="#f23645"/><text x="1043.1" y="186.5" font-family="Liberation Sans, sans-serif" font-size="10" font-weight="bold" fill="#fff"  textLength="35.5" lengthAdjust="spacingAndGlyphs">SMA:MA</text><rect x="1082.0" y="176.0" width="41.8" height="13.7" rx="2" fill="#f23645"/><text x="1089.4" y="186.5" font-family="Liberation Sans, sans-serif" font-size="10" font-weight="bold" fill="#fff"  textLength="30.0" lengthAdjust="spacingAndGlyphs">45.956</text><rect x="1055.3" y="190.5" width="26.7" height="14.0" rx="2" fill="#2962ff"/><text x="1059.2" y="200.8" font-family="Liberation Sans, sans-serif" font-size="10" font-weight="bold" fill="#fff"  textLength="19.0" lengthAdjust="spacingAndGlyphs">EMA</text><rect x="1082.0" y="190.5" width="41.8" height="14.0" rx="2" fill="#2962ff"/><text x="1089.4" y="200.8" font-family="Liberation Sans, sans-serif" font-size="10" font-weight="bold" fill="#fff"  textLength="30.0" lengthAdjust="spacingAndGlyphs">42.648</text><rect x="1082.0" y="232.9" width="41.8" height="14.0" rx="2" fill="#0000ff"/><text x="1089.4" y="243.5" font-family="Liberation Sans, sans-serif" font-size="10" font-weight="bold" fill="#fff"  textLength="30.0" lengthAdjust="spacingAndGlyphs">35.500</text><path d="M1082 137.7V204.5M1082 232.9V246.9M1082 538.8V553.5M1082 565.8V579.9" stroke="#fff" stroke-opacity="0.35" stroke-width="1"/><rect x="1060.4" y="538.8" width="21.6" height="14.7" rx="2" fill="#7e57c2"/><text x="1064.5" y="549.8" font-family="Liberation Sans, sans-serif" font-size="10" font-weight="bold" fill="#fff"  textLength="13.5" lengthAdjust="spacingAndGlyphs">RSI</text><rect x="1082.0" y="538.8" width="36.8" height="14.7" rx="2" fill="#7e57c2"/><text x="1089.4" y="549.8" font-family="Liberation Sans, sans-serif" font-size="10" font-weight="bold" fill="#fff"  textLength="25.0" lengthAdjust="spacingAndGlyphs">58.74</text><rect x="1014.6" y="565.8" width="67.4" height="14.1" rx="2" fill="#fdd835"/><text x="1018.5" y="576.6" font-family="Liberation Sans, sans-serif" font-size="10"  fill="#131722"  textLength="59.0" lengthAdjust="spacingAndGlyphs">RSI-based MA</text><rect x="1082.0" y="565.8" width="36.8" height="14.1" rx="2" fill="#fdd835"/><text x="1089.4" y="576.6" font-family="Liberation Sans, sans-serif" font-size="10"  fill="#131722"  textLength="25.0" lengthAdjust="spacingAndGlyphs">46.60</text><text x="88.4" y="647.5" font-family="Liberation Sans, sans-serif" font-size="10" font-weight="bold" fill="#131722" text-anchor="middle">2025</text><text x="183.1" y="647.5" font-family="Liberation Sans, sans-serif" font-size="10"  fill="#131722" text-anchor="middle">Feb</text><text x="268.7" y="647.5" font-family="Liberation Sans, sans-serif" font-size="10"  fill="#131722" text-anchor="middle">Mar</text><text x="363.5" y="647.5" font-family="Liberation Sans, sans-serif" font-size="10"  fill="#131722" text-anchor="middle">Apr</text><text x="455.2" y="647.5" font-family="Liberation Sans, sans-serif" font-size="10"  fill="#131722" text-anchor="middle">May</text><text x="549.9" y="647.5" font-family="Liberation Sans, sans-serif" font-size="10"  fill="#131722" text-anchor="middle">Jun</text><text x="641.6" y="647.5" font-family="Liberation Sans, sans-serif" font-size="10"  fill="#131722" text-anchor="middle">Jul</text><text x="736.3" y="647.5" font-family="Liberation Sans, sans-serif" font-size="10"  fill="#131722" text-anchor="middle">Aug</text><text x="831.1" y="647.5" font-family="Liberation Sans, sans-serif" font-size="10"  fill="#131722" text-anchor="middle">Sep</text><text x="922.8" y="647.5" font-family="Liberation Sans, sans-serif" font-size="10"  fill="#131722" text-anchor="middle">Oct</text><text x="1017.5" y="647.5" font-family="Liberation Sans, sans-serif" font-size="10"  fill="#131722" text-anchor="middle">Nov</text><text x="4.5" y="13.8" font-family="Liberation Sans, sans-serif" font-size="10" fill="#131722" textLength="306.5" lengthAdjust="spacing">ranadagger created with TradingView.com, Oct 29, 2025 15:15 UTC</text><text x="11.5" y="37.0" font-family="Liberation Sans, sans-serif" font-size="10" fill="#131722" textLength="155.2" lengthAdjust="spacing" >Hyperliquid / Tether · 1D · KuCoin</text><text x="173.5" y="37.0" font-family="Liberation Sans, sans-serif" font-size="10" fill="#131722" textLength="8.5" lengthAdjust="spacing" >O</text><text x="182.0" y="37.0" font-family="Liberation Sans, sans-serif" font-size="10" fill="#ef5350" textLength="28.0" lengthAdjust="spacing" >47.681</text><text x="216.5" y="37.0" font-family="Liberation Sans, sans-serif" font-size="10" fill="#131722" textLength="9.0" lengthAdjust="spacing" >H</text><text x="225.5" y="37.0" font-family="Liberation Sans, sans-serif" font-size="10" fill="#ef5350" textLength="28.5" lengthAdjust="spacing" >49.475</text><text x="260.0" y="37.0" font-family="Liberation Sans, sans-serif" font-size="10" fill="#131722" textLength="7.0" lengthAdjust="spacing" >L</text><text x="267.0" y="37.0" font-family="Liberation Sans, sans-serif" font-size="10" fill="#ef5350" textLength="29.0" lengthAdjust="spacing" >46.888</text><text x="302.0" y="37.0" font-family="Liberation Sans, sans-serif" font-size="10" fill="#131722" textLength="8.5" lengthAdjust="spacing" >C</text><text x="310.5" y="37.0" font-family="Liberation Sans, sans-serif" font-size="10" fill="#ef5350" textLength="28.0" lengthAdjust="spacing" >47.125</text><text x="345.0" y="37.0" font-family="Liberation Sans, sans-serif" font-size="10" fill="#ef5350" textLength="71.5" lengthAdjust="spacing" >−0.558 (−1.17%)</text><text x="11.5" y="51.8" font-family="Liberation Sans, sans-serif" font-size="10" fill="#131722" textLength="68.4" lengthAdjust="spacing" >EMA (20, close)</text><text x="87.6" y="51.8" font-family="Liberation Sans, sans-serif" font-size="10" fill="#2962ff" textLength="30.2" lengthAdjust="spacing" >42.648</text><text x="11.5" y="66.2" font-family="Liberation Sans, sans-serif" font-size="10" fill="#131722" textLength="68.4" lengthAdjust="spacing" >SMA (50, close)</text><text x="87.6" y="66.2" font-family="Liberation Sans, sans-serif" font-size="10" fill="#f23645" textLength="30.2" lengthAdjust="spacing" >45.956</text><text x="11.6" y="494.9" font-family="Liberation Sans, sans-serif" font-size="10" fill="#131722" textLength="64.4" lengthAdjust="spacing" >RSI (14, close)</text><text x="82.5" y="494.9" font-family="Liberation Sans, sans-serif" font-size="10" fill="#7e57c2" textLength="25.0" lengthAdjust="spacing" >58.74</text><text x="113.5" y="494.9" font-family="Liberation Sans, sans-serif" font-size="10" fill="#f5c842" textLength="25.5" lengthAdjust="spacing" >46.60</text><g fill="#131722"><path d="M6.1 674.6H16.6V687.4H11.4V679.8H6.1Z"/><circle cx="20.4" cy="677.2" r="2.6"/><path d="M25.3 674.6H31.5L26.2 687.4H20Z"/></g><text x="38" y="687.4" font-family="Liberation Sans, sans-serif" font-size="17.6" font-weight="bold" fill="#131722" textLength="102.5" lengthAdjust="spacingAndGlyphs">TradingView</text></svg></body></html>
